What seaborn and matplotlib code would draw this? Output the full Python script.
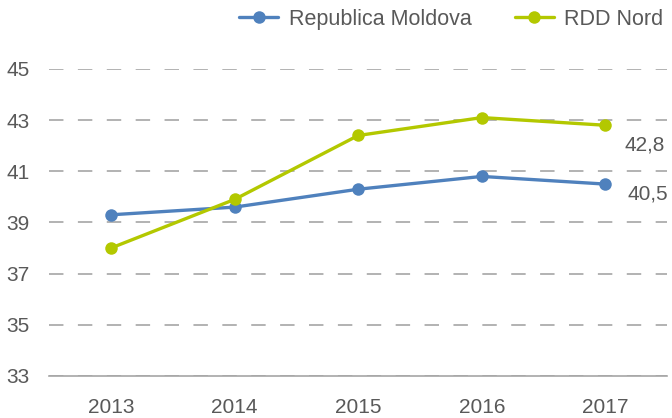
import matplotlib.pyplot as plt
from matplotlib.lines import Line2D
import seaborn as sns
import pandas as pd

years = ['2013', '2014', '2015', '2016', '2017']
moldova = [39.3, 39.6, 40.3, 40.8, 40.5]
rdd_nord = [38.0, 39.9, 42.4, 43.1, 42.8]
series_names = ['Republica Moldova', 'RDD Nord']
yticks = [33, 35, 37, 39, 41, 43, 45]

colors = {'Republica Moldova': '#4f81bd', 'RDD Nord': '#b3c800'}
text_color = '#595959'

df = pd.DataFrame({
    'An': years * 2,
    'Valoare': moldova + rdd_nord,
    'Serie': [series_names[0]] * len(years) + [series_names[1]] * len(years),
})

sns.set_style('white')
plt.rcParams['font.family'] = ['Liberation Sans', 'DejaVu Sans']

fig = plt.figure(figsize=(6.72, 4.18), dpi=100)
ax = fig.add_axes([0.073, 0.1005, 0.92, 0.7345])

sns.lineplot(data=df, x='An', y='Valoare', hue='Serie', palette=colors,
             marker='o', markersize=9, markeredgewidth=0, linewidth=2.4,
             legend=False, ax=ax)

ax.set_xlim(-0.5, len(years) - 0.5)
ax.set_ylim(33, 45)
ax.set_yticks(yticks)
ax.set_yticklabels([str(t) for t in yticks])
ax.yaxis.grid(True, linestyle=(0, (8, 8)), color='#adadad', linewidth=1.3)
ax.xaxis.grid(False)
ax.set_axisbelow(True)
for s in ['top', 'right', 'left']:
    ax.spines[s].set_visible(False)
ax.spines['bottom'].set_color('#a6a6a6')
ax.spines['bottom'].set_linewidth(1.2)
ax.tick_params(axis='both', length=0, labelsize=15, colors=text_color)
ax.tick_params(axis='y', pad=14)
ax.tick_params(axis='x', pad=16)
ax.set_xlabel('')
ax.set_ylabel('')

# data labels at last point
ax.annotate('42,8', (len(years) - 1, rdd_nord[-1]), textcoords='offset pixels',
            xytext=(39, -20), ha='center', va='center', fontsize=15, color=text_color)
ax.annotate('40,5', (len(years) - 1, moldova[-1]), textcoords='offset pixels',
            xytext=(42, -10), ha='center', va='center', fontsize=15, color=text_color)

handles = [Line2D([], [], color=colors[n], marker='o', markersize=9,
                  markeredgewidth=0, linewidth=2.4) for n in series_names]
leg = fig.legend(handles, series_names, loc='upper right', bbox_to_anchor=(1.0, 1.0),
                 ncol=2, frameon=False, fontsize=15.5, handlelength=1.8,
                 columnspacing=2.0, handletextpad=0.5, borderaxespad=0.0)
for t in leg.get_texts():
    t.set_color(text_color)

plt.savefig('out.png', dpi=100)
